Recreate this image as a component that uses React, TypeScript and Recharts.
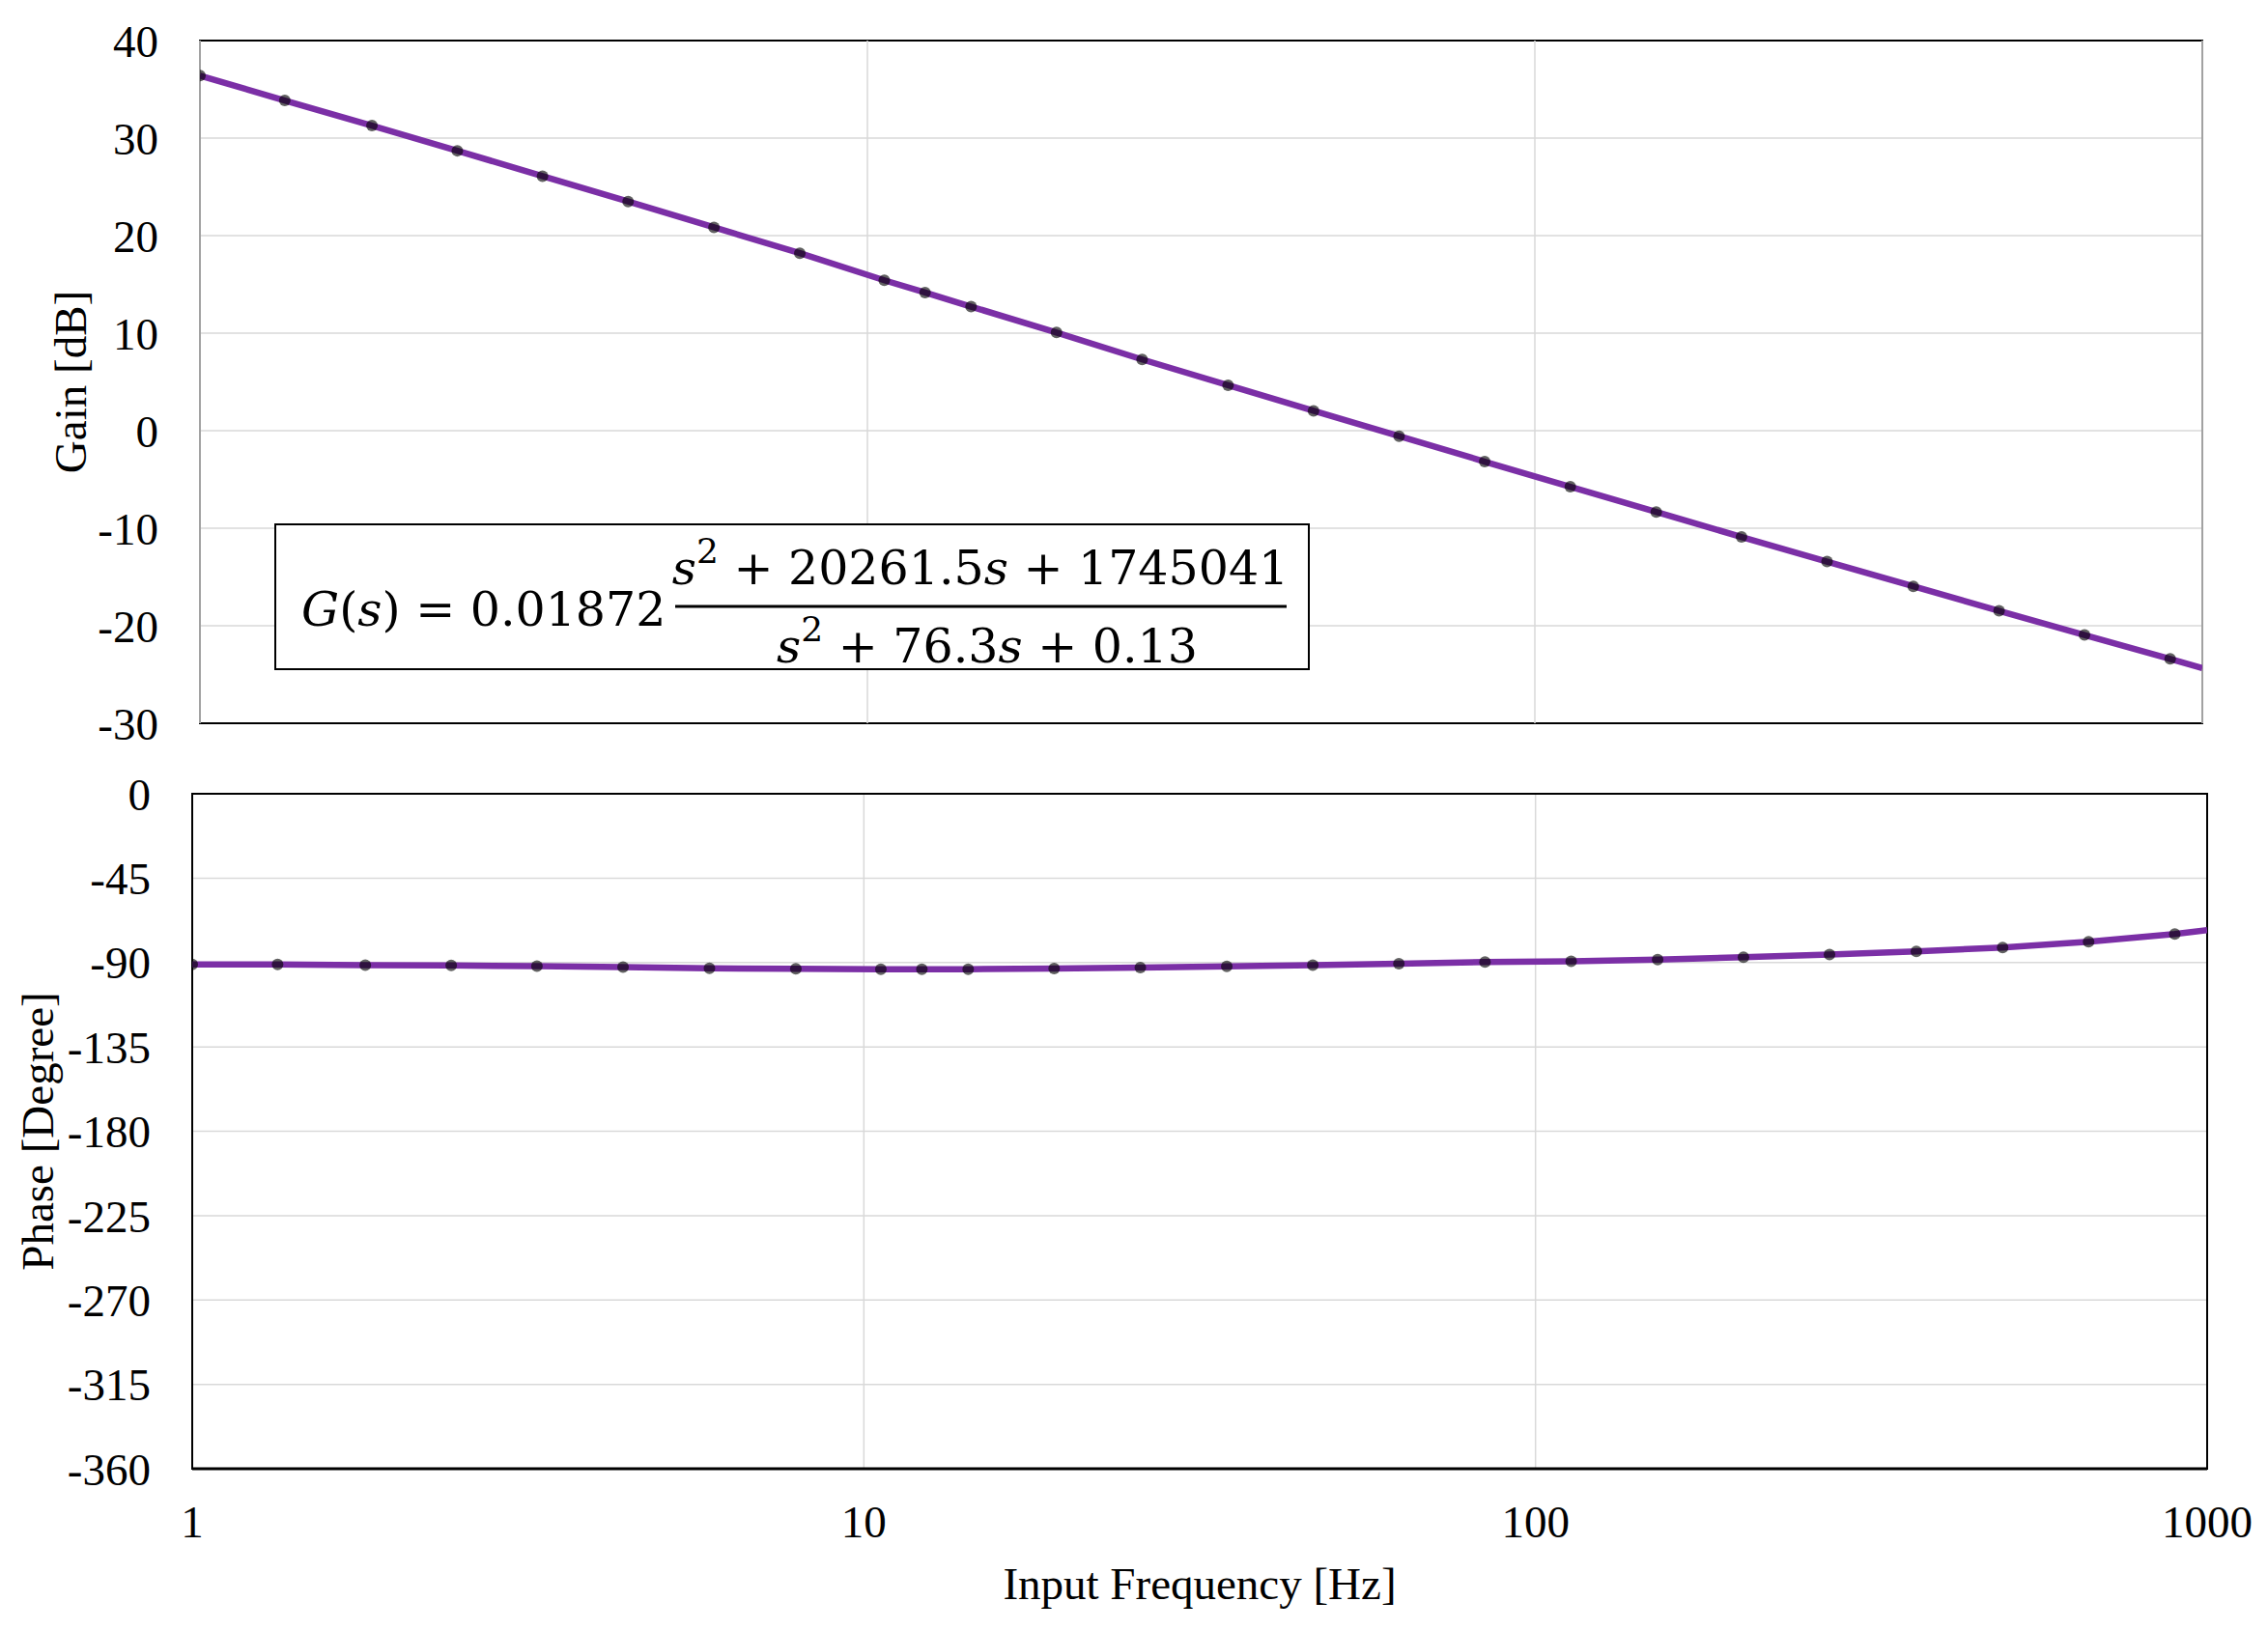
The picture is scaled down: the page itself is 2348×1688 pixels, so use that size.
import React from "react";
import { ComposedChart, Line, XAxis, YAxis, CartesianGrid, ReferenceArea, ReferenceLine } from "recharts";

// input frequency [Hz] of each measured point (last one only ends the line)
const frequencies = [1, 1.34, 1.81, 2.43, 3.26, 4.38, 5.89, 7.92, 10.6, 12.2, 14.3, 19.2, 25.8, 34.7, 46.6, 62.6, 84.1, 113, 152, 204, 274, 369, 496, 666, 895, 1000];
const gainDb = [36.4, 33.86, 31.28, 28.7, 26.1, 23.5, 20.85, 18.2, 15.42, 14.17, 12.72, 10.07, 7.3, 4.66, 2.04, -0.56, -3.17, -5.75, -8.33, -10.9, -13.42, -15.96, -18.47, -20.95, -23.4, -24.35];
const phaseDeg = [-91.0, -91.0, -91.4, -91.6, -91.9, -92.4, -93.1, -93.4, -93.6, -93.6, -93.6, -93.2, -92.7, -92.0, -91.4, -90.6, -89.8, -89.3, -88.4, -87.2, -85.8, -84.1, -82.0, -78.9, -74.8, -72.8];

const freqTicks = [1, 10, 100, 1000];
const gainTicks = [-30, -20, -10, 0, 10, 20, 30, 40];
const phaseTicks = [-360, -315, -270, -225, -180, -135, -90, -45, 0];

const data = frequencies.map((f, i) => ({ freq: f, gain: gainDb[i], phase: phaseDeg[i] }));

const FONT = "'Liberation Serif', 'Times New Roman', serif";
const MATH_FONT = "'DejaVu Serif', serif";
const PURPLE = "#7B2FA6";
const GRID = "#D9D9D9";
const tickStyle = { fontSize: 47, fill: "#000", fontFamily: FONT };

function renderMarker(props: any) {
  const { cx, cy, payload, index } = props;
  if (payload.freq >= 1000) return <g key={`m-${index}`} />;
  return <circle key={`m-${index}`} cx={cx} cy={cy} r={6} fill="#000" fillOpacity={0.62} />;
}

function YTitle(props: any) {
  const { viewBox, text, titleX } = props;
  const cy = viewBox.y + viewBox.height / 2;
  return (
    <text x={titleX} y={cy} transform={`rotate(-90 ${titleX} ${cy})`} textAnchor="middle" dominantBaseline="central"
      fontSize={47} fontFamily={FONT} fill="#000">
      {text}
    </text>
  );
}

function XTitle(props: any) {
  const { viewBox, text, titleDy } = props;
  return (
    <text x={viewBox.x + viewBox.width / 2} y={viewBox.y + titleDy} textAnchor="middle" dominantBaseline="central"
      fontSize={47} fontFamily={FONT} fill="#000">
      {text}
    </text>
  );
}

function Formula() {
  return (
    <svg width={2348} height={1688} style={{ position: "absolute", left: 0, top: 0, pointerEvents: "none" }}>
      <rect x={285} y={543} width={1070} height={150} fill="#fff" stroke="#000" strokeWidth={2} />
      <text x={312} y={648} fontSize={49} fontFamily={MATH_FONT} fill="#000">
        <tspan fontStyle="italic">G</tspan>(<tspan fontStyle="italic">s</tspan>){" = 0.01872"}
      </text>
      <line x1={699} x2={1332} y1={628} y2={628} stroke="#000" strokeWidth={3} />
      <text x={1015} y={605} textAnchor="middle" fontSize={49} fontFamily={MATH_FONT} fill="#000">
        <tspan fontStyle="italic">s</tspan>
        <tspan dy={-22} fontSize={36}>2</tspan>
        <tspan dy={22}>{" + 20261.5"}</tspan>
        <tspan fontStyle="italic">s</tspan>
        <tspan>{" + 1745041"}</tspan>
      </text>
      <text x={1022} y={686} textAnchor="middle" fontSize={49} fontFamily={MATH_FONT} fill="#000">
        <tspan fontStyle="italic">s</tspan>
        <tspan dy={-22} fontSize={36}>2</tspan>
        <tspan dy={22}>{" + 76.3"}</tspan>
        <tspan fontStyle="italic">s</tspan>
        <tspan>{" + 0.13"}</tspan>
      </text>
    </svg>
  );
}

export default function App() {
  return (
    <div style={{ position: "absolute", left: 0, top: 0, width: 2348, height: 1688, background: "#fff", fontFamily: FONT }}>
      <div style={{ position: "absolute", left: 0, top: 0 }}>
        <ComposedChart width={2348} height={770} data={data} margin={{ top: 42, right: 68, bottom: 21, left: 0 }}>
          <CartesianGrid stroke={GRID} strokeWidth={1.5} vertical={false} />
          <XAxis dataKey="freq" type="number" scale="log" domain={[1, 1000]} ticks={freqTicks} allowDataOverflow
            height={0} tick={false} axisLine={false} tickLine={false} />
          <YAxis type="number" domain={[-30, 40]} ticks={gainTicks} interval={0} width={207} tickSize={0} tickMargin={43}
            axisLine={false} tickLine={false} tick={tickStyle}
            label={<YTitle text="Gain [dB]" titleX={73} />} />
          {freqTicks.map((t) => (
            <ReferenceLine key={`v-${t}`} x={t} stroke={GRID} strokeWidth={1.5} />
          ))}
          <ReferenceArea x1={1} x2={1000} y1={-30} y2={40} fill="none" stroke="#000" strokeWidth={2} ifOverflow="visible" />
          <Line type="linear" dataKey="gain" stroke={PURPLE} strokeWidth={6.5} dot={renderMarker} activeDot={false}
            isAnimationActive={false} />
        </ComposedChart>
      </div>
      <div style={{ position: "absolute", left: 0, top: 780 }}>
        <ComposedChart width={2348} height={908} data={data} margin={{ top: 42, right: 63, bottom: 37, left: 0 }}>
          <CartesianGrid stroke={GRID} strokeWidth={1.5} />
          <XAxis dataKey="freq" type="number" scale="log" domain={[1, 1000]} ticks={freqTicks} interval={0} allowDataOverflow
            height={130} tickSize={0} tickMargin={38} tickLine={false} axisLine={{ stroke: "#000", strokeWidth: 3 }}
            tick={tickStyle} label={<XTitle text="Input Frequency [Hz]" titleDy={119} />} />
          <YAxis type="number" domain={[-360, 0]} ticks={phaseTicks} interval={0} width={199} tickSize={0} tickMargin={43}
            axisLine={false} tickLine={false} tick={tickStyle}
            label={<YTitle text="Phase [Degree]" titleX={39} />} />
          <ReferenceArea x1={1} x2={1000} y1={-360} y2={0} fill="none" stroke="#000" strokeWidth={2} ifOverflow="visible" />
          <Line type="linear" dataKey="phase" stroke={PURPLE} strokeWidth={6.5} dot={renderMarker} activeDot={false}
            isAnimationActive={false} />
        </ComposedChart>
      </div>
      <Formula />
    </div>
  );
}
